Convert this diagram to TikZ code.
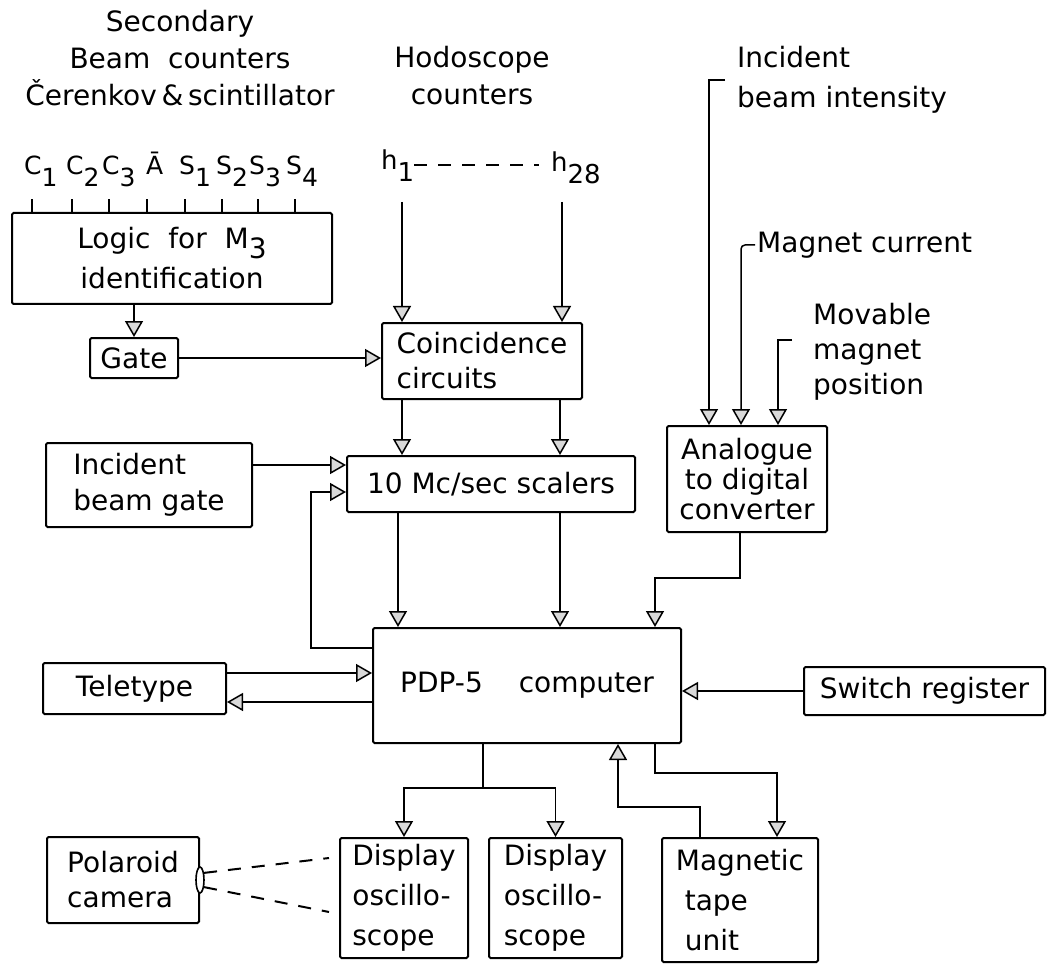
\documentclass[tikz,border=0pt]{standalone}
\usepackage{fontspec}
\setmainfont{DejaVu Sans}
\usetikzlibrary{arrows.meta,shapes.geometric}
\newcommand\lsub[1]{\raisebox{-10pt}{#1}}
\newcommand\csub[1]{\raisebox{-12pt}{#1}}
\begin{document}
\begin{tikzpicture}[x=1pt,y=-1pt,
  box/.style={draw, line width=2pt, rounded corners=1.5pt, inner sep=0pt, font=\fontsize{28}{36}\selectfont},
  lbl/.style={inner sep=0pt, font=\fontsize{28}{37}\selectfont},
  cnt/.style={inner sep=0pt, anchor=base west, font=\fontsize{25}{28}\selectfont},
  wire/.style={line width=1.5pt},
  arr/.style={wire, -{Triangle[length=16pt,width=18pt,fill=gray!30,line width=1.5pt]}},
  dsh/.style={line width=2pt, dash pattern=on 13pt off 11pt},
]
\useasboundingbox[fill=white] (0,0) rectangle (1059,965);

% ---- top labels
\node[lbl, align=center] (sec) at (180,58) {Secondary\\Beam\ \ counters\\Čerenkov\,\&\,scintillator};
\node[lbl, align=center] (hodo) at (472,76) {Hodoscope\\counters};
\node[lbl, align=left, anchor=west, font=\fontsize{28}{40}\selectfont] (ibi) at (737,80) {Incident\\beam intensity};
\node[lbl, anchor=west] (mc) at (757,245) {Magnet current};
\node[lbl, align=left, anchor=west, font=\fontsize{28}{35}\selectfont] (mmp) at (813,352) {Movable\\magnet\\position};

% ---- counters
\node[cnt] (c1) at (24,175) {C\csub{1}};
\node[cnt] (c2) at (66,175) {C\csub{2}};
\node[cnt] (c3) at (102,175) {C\csub{3}};
\node[cnt] (ab) at (146,175) {Ā};
\node[cnt] (s1) at (179,175) {S\csub{1}};
\node[cnt] (s2) at (216,175) {S\csub{2}};
\node[cnt] (s3) at (249,175) {S\csub{3}};
\node[cnt] (s4) at (286,175) {S\csub{4}};
\node[cnt, font=\fontsize{26}{28}\selectfont] (h1) at (381,170) {h\csub{1}};
\node[cnt, font=\fontsize{26}{28}\selectfont] (h28) at (551,172) {h\csub{28}};

% ---- boxes
\node[box, minimum width=320pt, minimum height=91pt, align=center] (logic) at (172,258.5) {Logic\ \ for\ \ M\lsub{3}\\[4pt]identification};
\node[box, minimum width=88pt, minimum height=40pt] (gate) at (134,358) {Gate};
\node[box, minimum width=200pt, minimum height=76pt, align=left, font=\fontsize{28}{35}\selectfont] (coinc) at (482,361) {Coincidence\\circuits};
\node[box, minimum width=288pt, minimum height=56pt] (scal) at (491,484) {10 Mc/sec scalers};
\node[box, minimum width=206pt, minimum height=84pt, align=left] (ibg) at (149,485) {Incident\\beam gate};
\node[box, minimum width=160pt, minimum height=106pt, align=center, font=\fontsize{28}{30}\selectfont] (adc) at (747,479) {Analogue\\to digital\\converter};
\node[box, minimum width=308pt, minimum height=115pt] (pdp) at (527,685.5) {PDP-5\hspace{36pt}computer};
\node[box, minimum width=183pt, minimum height=51pt] (tty) at (134.5,688.5) {Teletype};
\node[box, minimum width=241pt, minimum height=48pt] (sw) at (924.5,691) {Switch register};
\node[box, minimum width=128pt, minimum height=120pt, align=left, font=\fontsize{28}{40}\selectfont] (d1) at (404,898) {Display\\oscillo-\\scope};
\node[box, minimum width=133pt, minimum height=120pt, align=left, font=\fontsize{28}{40}\selectfont] (d2) at (555.5,898) {Display\\oscillo-\\scope};
\node[box, minimum width=156pt, minimum height=124pt, align=left, font=\fontsize{28}{40}\selectfont] (tape) at (740,900) {Magnetic\\\ tape\\\ unit};
\node[box, minimum width=152pt, minimum height=86pt, align=left, font=\fontsize{28}{35}\selectfont] (pol) at (123,880) {Polaroid\\camera};
\node[draw, ellipse, line width=1.6pt, minimum width=8pt, minimum height=26pt, inner sep=0pt, fill=white] (lens) at (pol.east) {};

% ---- counter ticks
\foreach \x in {32,72,109,147,185,222,258,295}
  \draw[wire] (logic.north -| \x,0) -- ++(0,-13);

% ---- hodoscope
\draw[dsh, line width=1.6pt, shorten >=12pt] (h1.east |- 0,165) -- (h28.west |- 0,165);
\coordinate (h1b) at (402,202);
\coordinate (h28b) at (562,202);
\draw[arr] (h1b) -- (coinc.north -| h1b);
\draw[arr] (h28b) -- (coinc.north -| h28b);

% ---- connectors
\draw[arr] (logic.south -| gate.north) -- (gate.north);
\draw[arr] (gate.east) -- (gate.east -| coinc.west);
\draw[arr] (coinc.south -| 402,0) -- (scal.north -| 402,0);
\draw[arr] (coinc.south -| 560,0) -- (scal.north -| 560,0);
\draw[arr] (ibg.east |- 0,465) -- (scal.west |- 0,465);
\draw[arr] (pdp.west |- 0,648) -| (311,492) -- (scal.west |- 0,492);
\draw[arr] (scal.south -| 398,0) -- (pdp.north -| 398,0);
\draw[arr] (scal.south -| 560,0) -- (pdp.north -| 560,0);
\draw[arr] (tty.east |- 0,673) -- (pdp.west |- 0,673);
\draw[arr] (pdp.west |- 0,702) -- (tty.east |- 0,702);
\draw[arr] (sw.west) -- (sw.west -| pdp.east);

\draw[arr] ([xshift=-12pt]ibi.west) -| (adc.north -| 709,0);
\draw[arr, rounded corners=4pt] ([xshift=-2pt]mc.west) -| (adc.north -| 741,0);
\draw[arr] ([xshift=-21pt,yshift=12pt]mmp.west) -| (adc.north -| 778,0);
\draw[arr] (adc.south -| 740,0) |- (655,578) -- (pdp.north -| 655,0);

\draw[wire] (pdp.south -| 483,0) -- (483,788);
\draw[arr] (483,788) -| (d1.north);
\draw[arr] (483,788) -| (d2.north);
\draw[arr] (tape.north -| 700,0) |- (618,807) -- (pdp.south -| 618,0);
\draw[arr] (pdp.south -| 655,0) |- (777,773) -- (tape.north -| 777,0);

\draw[dsh] (lens.60) -- ([xshift=-10pt,yshift=40pt]d1.west);
\draw[dsh] (lens.-60) -- ([xshift=-10pt,yshift=-14pt]d1.west);
\end{tikzpicture}
\end{document}
